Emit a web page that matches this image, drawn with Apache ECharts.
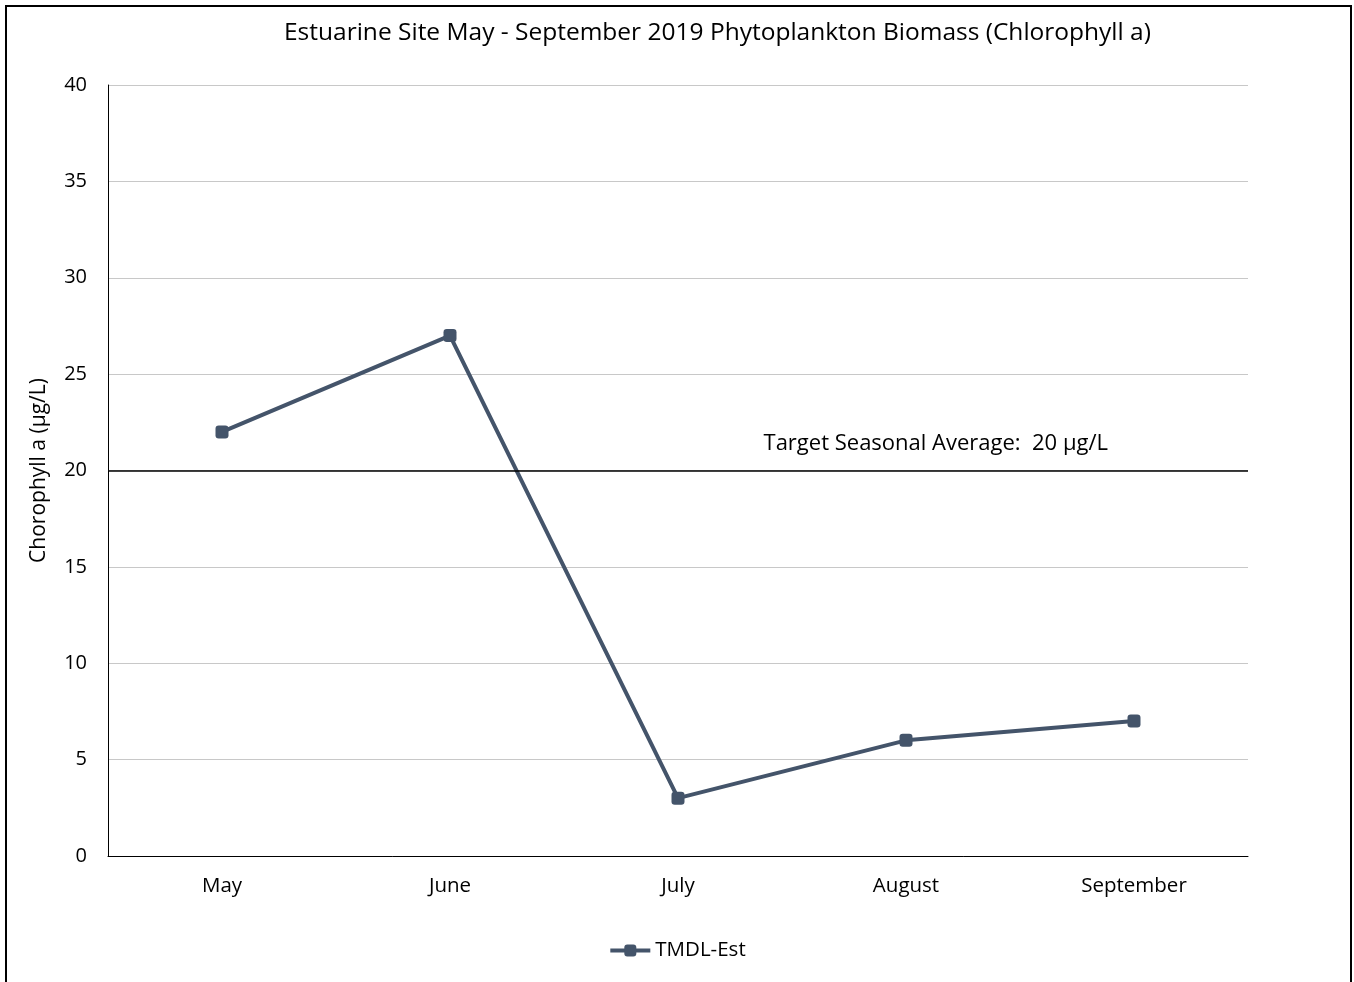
<!DOCTYPE html>
<html>
<head>
<meta charset="utf-8">
<title>Estuarine Site Chlorophyll a</title>
<script src="https://cdn.jsdelivr.net/npm/echarts@6/dist/echarts.min.js"></script>
<style>
  html, body { margin: 0; padding: 0; background: #fff; overflow: hidden; }
  #chart { position: absolute; left: 0; top: 0; width: 1354px; height: 982px; }
  #frame { position: absolute; left: 5px; top: 5px; width: 1343px; height: 1000px;
           border: 2px solid #000; pointer-events: none; }
</style>
</head>
<body>
<div id="chart"></div>
<div id="frame"></div>
<script>
  // 数据
  var months = ['May', 'June', 'July', 'August', 'September'];
  var chlValues = [22, 27, 3, 6, 7];
  var targetAvg = 20;
  var yTicks = [0, 5, 10, 15, 20, 25, 30, 35, 40];

  var fontFam = '"Open Sans", "Noto Sans", sans-serif';
  var myChart = echarts.init(document.getElementById('chart'));
  myChart.setOption({
    animation: false,
    textStyle: { fontFamily: fontFam, color: '#000' },
    title: {
      text: 'Estuarine Site May - September 2019 Phytoplankton Biomass (Chlorophyll a)',
      left: 279,
      top: 16,
      textStyle: { fontSize: 24.5, fontWeight: 'normal', color: '#000', fontFamily: fontFam }
    },
    legend: {
      bottom: 16,
      left: 'center',
      itemWidth: 40,
      itemHeight: 15,
      itemGap: 4,
      itemStyle: { color: '#44546A' },
      lineStyle: { width: 4, color: '#44546A' },
      textStyle: { fontSize: 20.5, color: '#000' },
      data: ['TMDL-Est']
    },
    grid: { left: 108, right: 106, top: 85, bottom: 126, containLabel: false },
    xAxis: {
      type: 'category',
      data: months,
      boundaryGap: true,
      axisLine: { show: true, lineStyle: { color: '#000', width: 1 } },
      axisTick: { show: false },
      axisLabel: { fontSize: 20.5, color: '#000', margin: 20 },
      splitLine: { show: false }
    },
    yAxis: {
      type: 'value',
      min: yTicks[0],
      max: yTicks[yTicks.length - 1],
      interval: 5,
      name: 'Chorophyll a (µg/L)',
      nameLocation: 'middle',
      nameGap: 58,
      nameTextStyle: { fontSize: 21, color: '#000' },
      axisLine: { show: true, lineStyle: { color: '#000', width: 1 } },
      axisTick: { show: false },
      axisLabel: { fontSize: 20, color: '#000', margin: 21 },
      splitLine: { show: true, lineStyle: { color: '#c8c8c8', width: 1 } }
    },
    series: [
      {
        name: 'TMDL-Est',
        type: 'line',
        data: chlValues,
        symbol: 'roundRect',
        symbolSize: 13,
        lineStyle: { color: '#44546A', width: 4 },
        itemStyle: { color: '#44546A' },
        markLine: {
          silent: true,
          symbol: ['none', 'none'],
          lineStyle: { color: '#000', width: 1.5, type: 'solid' },
          label: {
            show: true,
            position: 'insideEndTop',
            formatter: 'Target Seasonal Average:  20 µg/L',
            fontSize: 22,
            color: '#000',
            fontFamily: fontFam,
            distance: [140, 16]
          },
          data: [{ yAxis: targetAvg }]
        }
      }
    ]
  });
</script>
</body>
</html>
